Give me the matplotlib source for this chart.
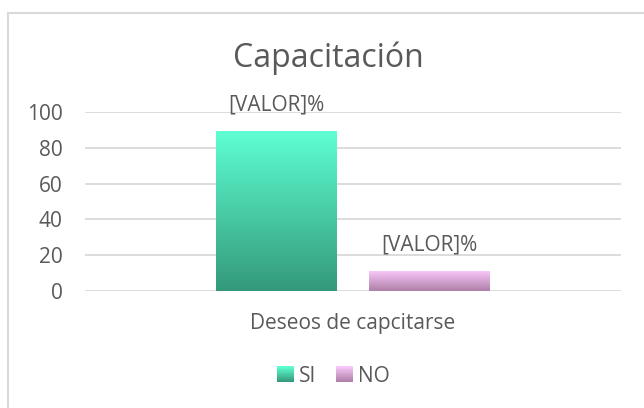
import numpy as np
import matplotlib
matplotlib.use("Agg")
import matplotlib.pyplot as plt
from matplotlib.colors import LinearSegmentedColormap
from matplotlib.patches import Patch, Rectangle
from matplotlib.legend_handler import HandlerBase

plt.rcParams["font.family"] = ["Open Sans", "DejaVu Sans"]

titulo = "Capacitación"
categoria = "Deseos de capcitarse"
series = ["SI", "NO"]
valores = [89, 11]
etiquetas = ["[VALOR]%", "[VALOR]%"]
yticks = [0, 20, 40, 60, 80, 100]

# colores degradado (abajo, arriba)
degradados = [("#34997A", "#5EFFD3"), ("#AE7FA8", "#F8C6F8")]
color_texto = "#595959"


class HandlerDegradado(HandlerBase):
    def create_artists(self, legend, orig_handle, xdescent, ydescent,
                       width, height, fontsize, trans):
        cmap = orig_handle.cmap_degradado
        n = 20
        lado = min(width, height) * 1.1
        x0 = -xdescent + (width - lado) / 2
        y0 = -ydescent + (height - lado) / 2
        arts = []
        for i in range(n):
            r = Rectangle((x0, y0 + lado * i / n), lado, lado / n + 0.3,
                          facecolor=cmap(i / (n - 1)), edgecolor="none",
                          transform=trans)
            arts.append(r)
        return arts


W, H = 644, 408
fig = plt.figure(figsize=(W / 100, H / 100), dpi=100)
ax = fig.add_axes([85 / W, (H - 291) / H, (621 - 85) / W, (291 - 112) / H])

ancho = 0.2257
hueco = 0.0597
centro = 0.5
posiciones = [centro - (ancho + hueco) / 2, centro + (ancho + hueco) / 2]

handles = []
for x, v, (c0, c1), txt in zip(posiciones, valores, degradados, etiquetas):
    cmap = LinearSegmentedColormap.from_list("g", [c0, c1])
    grad = np.linspace(0, 1, 256).reshape(-1, 1)
    ax.imshow(grad, cmap=cmap, origin="lower", aspect="auto",
              extent=[x - ancho / 2, x + ancho / 2, 0, v], zorder=3)
    ax.text(x, v + 9.0, txt, ha="center", va="bottom",
            fontsize=15, color=color_texto, zorder=4)
    h = Patch(facecolor=c1)
    h.cmap_degradado = cmap
    handles.append(h)

ax.set_xlim(0, 1)
ax.set_ylim(0, 100)
ax.set_yticks(yticks)
ax.set_xticks([])
ax.grid(True, axis="y", color="#D9D9D9", linewidth=1.3, zorder=0)
ax.set_axisbelow(True)
for s in ax.spines.values():
    s.set_visible(False)
ax.tick_params(axis="y", length=0, pad=16, labelsize=15, labelcolor=color_texto)

fig.text(328 / W, 1 - 58 / H, titulo, ha="center", va="center",
         fontsize=23, color=color_texto)
fig.text(353 / W, 1 - 324 / H, categoria, ha="center", va="center",
         fontsize=15, color=color_texto)

fig.legend(handles, series, loc="center", bbox_to_anchor=(334 / W, 1 - 376 / H),
           ncol=2, frameon=False, fontsize=15, labelcolor=color_texto,
           handler_map={Patch: HandlerDegradado()},
           handlelength=0.7, handleheight=0.7, handletextpad=0.3, columnspacing=1.0)

fig.patches.append(Rectangle((8 / W, -0.1), 1.2, (H - 13) / H + 0.1,
                             transform=fig.transFigure, fill=False,
                             edgecolor="#D9D9D9", linewidth=1.5))

fig.savefig("out.png", dpi=100)
